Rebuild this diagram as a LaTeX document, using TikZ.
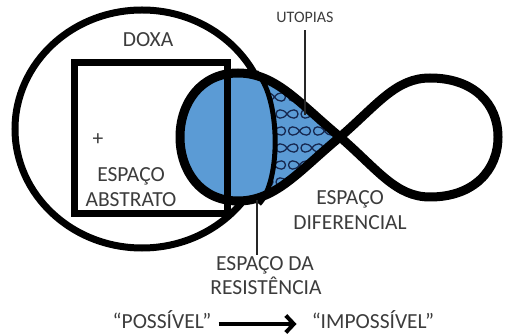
\documentclass[tikz,border=0pt]{standalone}
\usepackage{fontspec}
\setmainfont{Carlito}
\usepackage{tikz}
\usetikzlibrary{arrows.meta,positioning}
\definecolor{espaco}{RGB}{91,155,213}
\definecolor{tinta}{RGB}{60,60,60}
\definecolor{laco}{RGB}{22,40,80}
\tikzset{txt/.style={text=tinta, font=\fontsize{21.5}{25}\selectfont, inner sep=1pt, anchor=base}}
\tikzset{smalltxt/.style={text=tinta, font=\fontsize{16}{18}\selectfont, inner sep=1pt, anchor=base}}
\tikzset{pointer/.style={draw=black!85, line width=1.5}}
\tikzset{line/.style={draw, line width=4, -{Straight Barb[length=8pt,width=17pt]}}}
\tikzset{loopsign/.pic={\draw[laco, line width=1.3] (0,0) .. controls (4,6) and (11,5) .. (11,0) .. controls (11,-5) and (4,-6) .. (0,0) .. controls (-4,6) and (-11,5) .. (-11,0) .. controls (-11,-5) and (-4,-6) .. (0,0);}}
\newcommand{\lobeleft}{(340,137) .. controls (300,104) and (276,73) .. (238,73) .. controls (200,73) and (180,104) .. (180,137) .. controls (180,170) and (200,201) .. (238,201) .. controls (276,201) and (300,170) .. (340,137)}
\newcommand{\loberight}{(340,137) .. controls (378,104) and (396,78) .. (430,78) .. controls (474,78) and (498,104) .. (498,137) .. controls (498,170) and (474,197) .. (430,197) .. controls (396,197) and (378,170) .. (340,137)}

\begin{document}
\begin{tikzpicture}[x=1pt,y=-1pt]
\useasboundingbox (0,0) rectangle (505,336);
% doxa
\draw[line width=7] (142,129) ellipse [x radius=127, y radius=119];
% blue lobe
\fill[espaco] \lobeleft -- cycle;
\begin{scope}
\clip \lobeleft -- cycle;
\clip (256,60) -- (256,72) .. controls (280,95) and (282,180) .. (259,204) -- (259,215) -- (360,215) -- (360,60) -- cycle;
\foreach \row in {0,...,7} {
  \foreach \col in {0,...,4} {
    \pgfmathsetmacro\xx{262+\col*25+mod(\row,2)*12.5}
    \pgfmathsetmacro\yy{80+\row*17}
    \pic at (\xx,\yy) {loopsign};
  }
}
\end{scope}
\draw[line width=5] (256,72) .. controls (280,95) and (282,180) .. (259,204);
% infinito
\draw[line width=9, line join=round] \lobeleft -- cycle;
\draw[line width=9, line join=round] \loberight -- cycle;
% espaco abstrato
\draw[line width=7] (74,63) rectangle (227,214);
%
\node[txt] (doxa) at (148,47) {DOXA};
\node[txt] (plus) at (98,146) {+};
\node[txt] (abstrato1) at (131,182) {ESPAÇO};
\node[txt] (abstrato2) at (131,207) {ABSTRATO};
\node[smalltxt] (utopias) at (305,23) {UTOPIAS};
\node[txt] (diferencial1) at (350,205) {ESPAÇO};
\node[txt] (diferencial2) at (350,230) {DIFERENCIAL};
\node[txt] (resist1) at (265,270) {ESPAÇO DA};
\node[txt] (resist2) at (266,294) {RESISTÊNCIA};
\node[txt] (possivel) at (162,328) {“POSSÍVEL”};
\node[txt] (impossivel) at (373,328) {“IMPOSSÍVEL”};
%
\coordinate (utopiaend) at (305,115);
\coordinate (resistend) at (257,200);
\path[pointer] ([yshift=-6pt]utopias.south) -- (utopiaend);
\path[pointer] (resistend) -- (resistend |- resist1.north);
\path[line] ([xshift=6pt,yshift=4pt]possivel.base east) -- ([xshift=-14pt,yshift=4pt]impossivel.base west);
\end{tikzpicture}
\end{document}
